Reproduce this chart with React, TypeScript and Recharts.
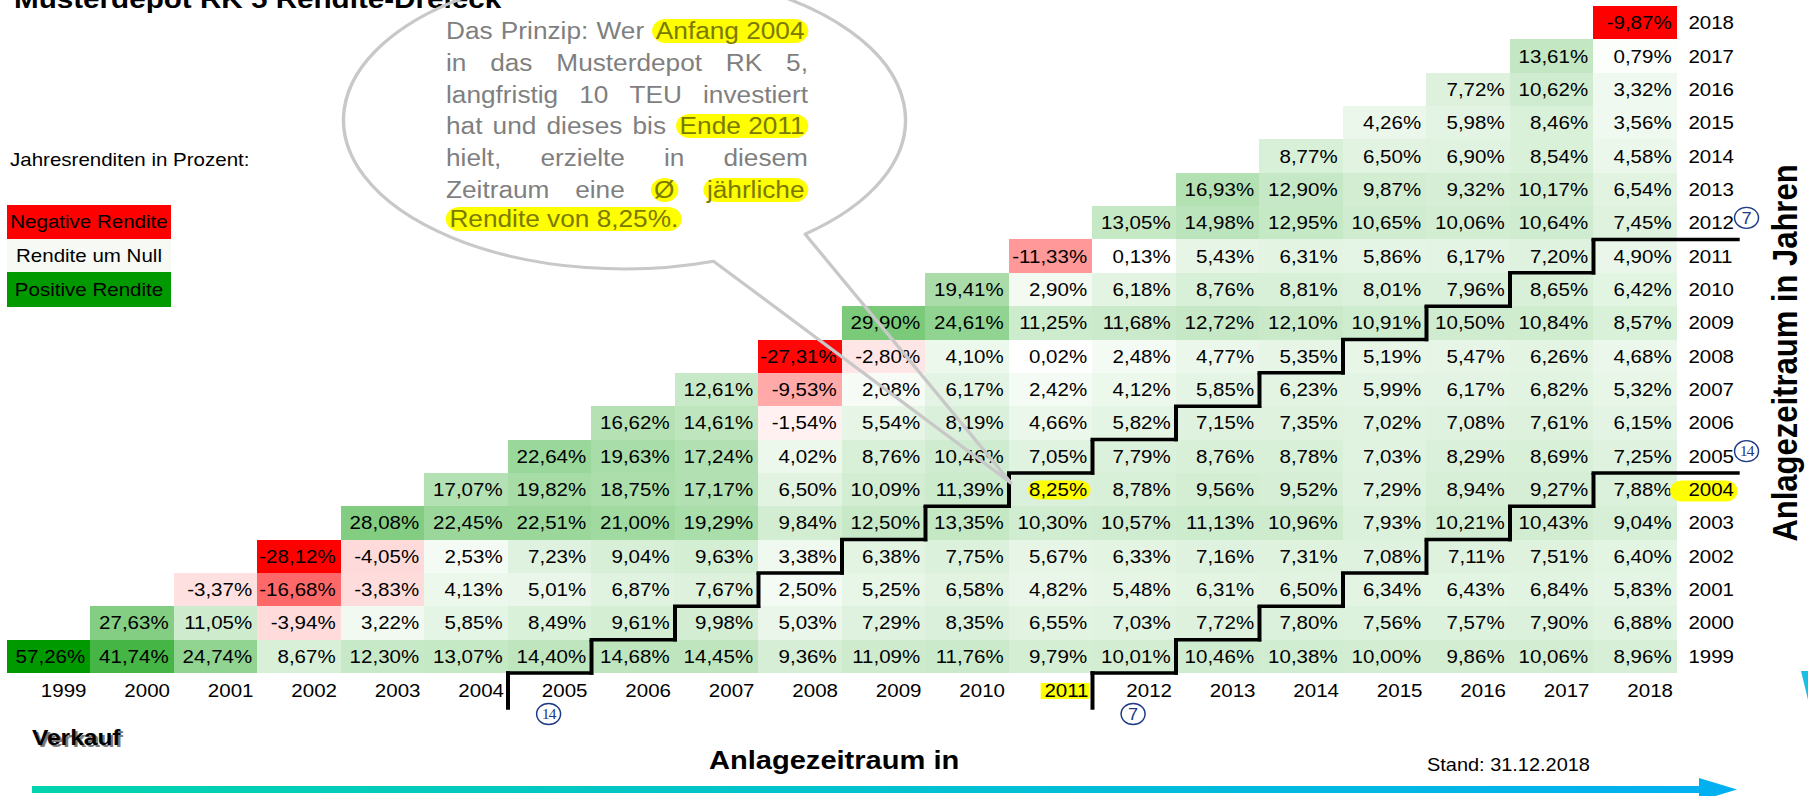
import React from 'react';
import { BarChart, Bar, XAxis, YAxis } from 'recharts';

// the source slide is stretched horizontally; draw narrow and scale the whole frame
const SX = 1.14;
const FW = 1808 / SX;
const fx = (v: number) => v / SX;

const years = [1999, 2000, 2001, 2002, 2003, 2004, 2005, 2006, 2007, 2008, 2009, 2010, 2011, 2012, 2013, 2014, 2015, 2016, 2017, 2018];

// Ø jährliche Rendite: Kauf Anfang <Jahr>, Verkauf Ende Kaufjahr .. 2018
const kauf1999 = [57.26, 41.74, 24.74, 8.67, 12.3, 13.07, 14.4, 14.68, 14.45, 9.36, 11.09, 11.76, 9.79, 10.01, 10.46, 10.38, 10.0, 9.86, 10.06, 8.96];
const kauf2000 = [27.63, 11.05, -3.94, 3.22, 5.85, 8.49, 9.61, 9.98, 5.03, 7.29, 8.35, 6.55, 7.03, 7.72, 7.8, 7.56, 7.57, 7.9, 6.88];
const kauf2001 = [-3.37, -16.68, -3.83, 4.13, 5.01, 6.87, 7.67, 2.5, 5.25, 6.58, 4.82, 5.48, 6.31, 6.5, 6.34, 6.43, 6.84, 5.83];
const kauf2002 = [-28.12, -4.05, 2.53, 7.23, 9.04, 9.63, 3.38, 6.38, 7.75, 5.67, 6.33, 7.16, 7.31, 7.08, 7.11, 7.51, 6.4];
const kauf2003 = [28.08, 22.45, 22.51, 21.0, 19.29, 9.84, 12.5, 13.35, 10.3, 10.57, 11.13, 10.96, 7.93, 10.21, 10.43, 9.04];
const kauf2004 = [17.07, 19.82, 18.75, 17.17, 6.5, 10.09, 11.39, 8.25, 8.78, 9.56, 9.52, 7.29, 8.94, 9.27, 7.88];
const kauf2005 = [22.64, 19.63, 17.24, 4.02, 8.76, 10.46, 7.05, 7.79, 8.76, 8.78, 7.03, 8.29, 8.69, 7.25];
const kauf2006 = [16.62, 14.61, -1.54, 5.54, 8.19, 4.66, 5.82, 7.15, 7.35, 7.02, 7.08, 7.61, 6.15];
const kauf2007 = [12.61, -9.53, 2.08, 6.17, 2.42, 4.12, 5.85, 6.23, 5.99, 6.17, 6.82, 5.32];
const kauf2008 = [-27.31, -2.8, 4.1, 0.02, 2.48, 4.77, 5.35, 5.19, 5.47, 6.26, 4.68];
const kauf2009 = [29.9, 24.61, 11.25, 11.68, 12.72, 12.1, 10.91, 10.5, 10.84, 8.57];
const kauf2010 = [19.41, 2.9, 6.18, 8.76, 8.81, 8.01, 7.96, 8.65, 6.42];
const kauf2011 = [-11.33, 0.13, 5.43, 6.31, 5.86, 6.17, 7.2, 4.9];
const kauf2012 = [13.05, 14.98, 12.95, 10.65, 10.06, 10.64, 7.45];
const kauf2013 = [16.93, 12.9, 9.87, 9.32, 10.17, 6.54];
const kauf2014 = [8.77, 6.5, 6.9, 8.54, 4.58];
const kauf2015 = [4.26, 5.98, 8.46, 3.56];
const kauf2016 = [7.72, 10.62, 3.32];
const kauf2017 = [13.61, 0.79];
const kauf2018 = [-9.87];

const reihen = [kauf1999, kauf2000, kauf2001, kauf2002, kauf2003, kauf2004, kauf2005, kauf2006, kauf2007, kauf2008,
  kauf2009, kauf2010, kauf2011, kauf2012, kauf2013, kauf2014, kauf2015, kauf2016, kauf2017, kauf2018];

const beispiel = { kauf: 2004, verkauf: 2011 };
const holdingMarks = [7, 14];
const colMarks = [{ year: 2005, label: '14' }, { year: 2012, label: '7' }];
const rowMarks = [{ year: 2012, label: '7' }, { year: 2005, label: '14' }];

const table = years.map((sell) => {
  const row: Record<string, any> = { sell: String(sell) };
  years.forEach((buy, i) => {
    const v = sell >= buy ? reihen[i][sell - buy] : null;
    row[`u${buy}`] = v == null ? null : 1;
    row[`v${buy}`] = v;
  });
  return row;
});

const alle = reihen.flat();
const maxPos = Math.max(...alle);
const maxNeg = -Math.min(...alle);
const firstYear = years[0];
const lastYear = years[years.length - 1];

const FS = 18;
const HL = '#FFFF00';
const PLOT_LEFT = fx(7);
const PLOT_W = fx(1677 - 7);
const PLOT_TOP = 6;
const PLOT_BOTTOM = 673;
const CELL_W = PLOT_W / years.length;
const rowTicks = years.map((_, i) => i + 0.5);
const STEP_BELOW = 35; // staircase runs down past the axis
const STEP_RIGHT = fx(61); // and out to the row labels

function farbe(v: number, buy: number) {
  if (v < 0) {
    // the latest year's loss is marked full red in the source
    if (buy === lastYear) return '#FF0000';
    const t = Math.min(1, -v / maxNeg);
    const c = Math.round(255 * (1 - t));
    return `rgb(255,${c},${c})`;
  }
  const t = Math.min(1, v / maxPos);
  const rb = Math.round(255 * (1 - t));
  const g = Math.round(255 - 102 * t);
  return `rgb(${rb},${g},${rb})`;
}

const fmt = (v: number) => v.toFixed(2).replace('.', ',') + '%';

function Zelle(props: any) {
  const { x, y, width, height, payload, kauf } = props;
  const v = payload ? payload[`v${kauf}`] : null;
  if (v == null) return <g />;
  const sell = Number(payload.sell);
  const right = x + width - 4.4;
  const cy = y + height / 2;
  const hl = kauf === beispiel.kauf && sell === beispiel.verkauf;
  const h = sell - kauf + 1;
  const bottom = y + height;
  const stroke = { stroke: '#000', strokeWidth: 3.5, strokeLinecap: 'square' as const };
  return (
    <g>
      <rect x={x} y={y} width={width} height={height} fill={farbe(v, kauf)} shapeRendering="crispEdges" />
      {hl && <rect x={right - 52} y={cy - 9} width={55} height={19} rx={9.5} fill={HL} />}
      <text x={right} y={cy} dy="0.36em" textAnchor="end" fontSize={FS} fill="#000">{fmt(v)}</text>
      {holdingMarks.includes(h) && (
        <line x1={x} y1={bottom} x2={x + width + (sell === lastYear ? STEP_RIGHT : 0)} y2={bottom} {...stroke} />
      )}
      {holdingMarks.includes(h) && kauf === firstYear && (
        <line x1={x} y1={bottom} x2={x} y2={bottom + STEP_BELOW} {...stroke} />
      )}
      {holdingMarks.includes(h - 1) && <line x1={x} y1={y} x2={x} y2={bottom} {...stroke} />}
    </g>
  );
}

function Kreis({ cx, cy, label }: { cx: number; cy: number; label: string }) {
  const two = label.length > 1;
  return (
    <g>
      <circle cx={cx} cy={cy} r={10.5} fill="none" stroke="#1F3A86" strokeWidth={1.3} />
      <text x={cx} y={cy} dy="0.36em" textAnchor="middle" fill="#1F3A86"
        fontSize={two ? 14 : 16} letterSpacing={two ? -1 : 0}
        fontFamily={two ? "'Liberation Serif', serif" : "'Liberation Sans', Arial, sans-serif"}>{label}</text>
    </g>
  );
}

function SellTick(props: any) {
  const { x, y, payload } = props;
  const year = Number(payload.value);
  const right = x + CELL_W / 2 - 3.5;
  const mark = colMarks.find((m) => m.year === year);
  return (
    <g>
      {year === beispiel.verkauf && <rect x={right - 42} y={y - 14} width={43} height={16} fill={HL} />}
      <text x={right} y={y} textAnchor="end" fontSize={FS} fill="#000">{payload.value}</text>
      {mark && <Kreis cx={x - 1} cy={y + 17} label={mark.label} />}
    </g>
  );
}

function BuyTick(props: any) {
  const { x, y, payload } = props;
  const year = years[Math.floor(payload.value)];
  const mark = rowMarks.find((m) => m.year === year);
  return (
    <g>
      {year === beispiel.kauf && <rect x={x - 16} y={y - 9} width={59} height={21} rx={10} fill={HL} />}
      <text x={x} y={y} dy="0.36em" fontSize={FS} fill="#000">{year}</text>
      {mark && <Kreis cx={x + 51} cy={y - 5} label={mark.label} />}
    </g>
  );
}

// speech bubble: ellipse with a tail pointing at the example cell
const B_CX = fx(624.5);
const B_CY = 120;
const B_RX = fx(281);
const B_RY = 149;
const onEllipse = (deg: number) => {
  const a = (deg * Math.PI) / 180;
  return [B_CX + B_RX * Math.cos(a), B_CY + B_RY * Math.sin(a)];
};
const tailA = onEllipse(50);
const tailB = onEllipse(71.5);
const tailTip = [fx(1011), 483];

type Wort = string | { hl: string };
const blase: Wort[][] = [
  ['Das', 'Prinzip:', 'Wer', { hl: 'Anfang 2004' }],
  ['in', 'das', 'Musterdepot', 'RK', '5,'],
  ['langfristig', '10', 'TEU', 'investiert'],
  ['hat', 'und', 'dieses', 'bis', { hl: 'Ende 2011' }],
  ['hielt,', 'erzielte', 'in', 'diesem'],
  ['Zeitraum', 'eine', { hl: 'Ø' }, { hl: 'jährliche' }],
  [{ hl: 'Rendite von 8,25%.' }],
];

export default function App() {
  const font = "'Liberation Sans', Arial, sans-serif";
  return (
    <div style={{ position: 'absolute', left: 0, top: 0, width: 1808, height: 796, overflow: 'hidden', background: '#fff', fontFamily: font }}>
      <div style={{ position: 'absolute', left: 0, top: 0, width: FW, height: 796, transform: `scaleX(${SX})`, transformOrigin: '0 0' }}>
        <div style={{ position: 'absolute', left: 0, top: 0 }}>
          <BarChart width={FW} height={796} data={table} margin={{ top: PLOT_TOP, right: 0, bottom: 0, left: PLOT_LEFT }}
            barCategoryGap={0} barGap={0}>
            <XAxis dataKey="sell" height={796 - PLOT_BOTTOM} interval={0} tickLine={false} axisLine={false}
              tickSize={0} tickMargin={24} tick={(p: any) => <SellTick {...p} />} />
            <YAxis orientation="right" type="number" domain={[0, years.length]} ticks={rowTicks} interval={0}
              width={FW - PLOT_LEFT - PLOT_W} tickLine={false} axisLine={false} tickSize={0} tickMargin={10}
              tick={(p: any) => <BuyTick {...p} />} />
            {years.map((buy) => (
              <Bar key={buy} dataKey={`u${buy}`} stackId="dreieck" isAnimationActive={false}
                shape={(p: any) => <Zelle {...p} kauf={buy} />} />
            ))}
          </BarChart>
        </div>

        <svg width={FW} height={796} style={{ position: 'absolute', left: 0, top: 0, pointerEvents: 'none' }}>
          <defs>
            <linearGradient id="pfeil" x1="0" x2="1" y1="0" y2="0">
              <stop offset="0" stopColor="#00D3AD" />
              <stop offset="1" stopColor="#00B0F0" />
            </linearGradient>
          </defs>
          <text x={fx(14)} y={8} fontSize={26} fontWeight="bold" fill="#000">Musterdepot RK 5 Rendite-Dreieck</text>
          <text x={fx(10)} y={166} fontSize={18} fill="#000">Jahresrenditen in Prozent:</text>

          <rect x={fx(7)} y={205} width={fx(164)} height={34} fill="#FF0000" />
          <rect x={fx(7)} y={239} width={fx(164)} height={33} fill="#F7FAF4" />
          <rect x={fx(7)} y={272} width={fx(164)} height={35} fill="#009900" />
          <text x={fx(89)} y={222} dy="0.36em" textAnchor="middle" fontSize={18} fill="#000">Negative Rendite</text>
          <text x={fx(89)} y={255.5} dy="0.36em" textAnchor="middle" fontSize={18} fill="#000">Rendite um Null</text>
          <text x={fx(89)} y={289.5} dy="0.36em" textAnchor="middle" fontSize={18} fill="#000">Positive Rendite</text>

          <path d={`M ${tailA[0]} ${tailA[1]} A ${B_RX} ${B_RY} 0 1 0 ${tailB[0]} ${tailB[1]} L ${tailTip[0]} ${tailTip[1]} Z`}
            fill="none" stroke="#C8C8C8" strokeWidth={3} strokeLinejoin="round" />

          <text transform={`translate(${fx(1785)} 353) rotate(-90)`} textAnchor="middle" dominantBaseline="central"
            fontSize={31} fontWeight="bold" fill="#000">Anlagezeitraum in Jahren</text>
          <polygon points={`${fx(1801)},671 ${fx(1822)},671 ${fx(1811)},712`} fill="#1CBFE4" />

          <text x={fx(32) + 2} y={747} fontSize={21.5} fontWeight="bold" fill="#7A7A7A">Verkauf</text>
          <text x={fx(32)} y={745} fontSize={21.5} fontWeight="bold" fill="#000">Verkauf</text>
          <text x={fx(709)} y={769} fontSize={25.5} fontWeight="bold" fill="#000">Anlagezeitraum in</text>
          <text x={fx(1427)} y={771} fontSize={17.5} fill="#000">Stand: 31.12.2018</text>

          <rect x={fx(32)} y={786} width={fx(1700 - 32)} height={7} fill="url(#pfeil)" />
          <polygon points={`${fx(1699)},778 ${fx(1737)},789.5 ${fx(1699)},801`} fill="#00B0F0" />
        </svg>

        <div style={{ position: 'absolute', left: fx(446), top: 16, width: fx(362), fontSize: 23, color: '#7F7F7F' }}>
          {blase.map((zeile, i) => (
            <div key={i} style={{ display: 'flex', justifyContent: i === blase.length - 1 ? 'flex-start' : 'space-between',
              alignItems: 'baseline', height: 31.8, lineHeight: '31.8px', whiteSpace: 'nowrap' }}>
              {zeile.map((w, j) =>
                typeof w === 'string' ? (
                  <span key={j}>{w}</span>
                ) : (
                  <span key={j} style={{ background: HL, color: '#7A7A00', borderRadius: 12, padding: '0 3px', lineHeight: '24px', display: 'inline-block' }}>{w.hl}</span>
                ),
              )}
            </div>
          ))}
        </div>
      </div>
    </div>
  );
}
